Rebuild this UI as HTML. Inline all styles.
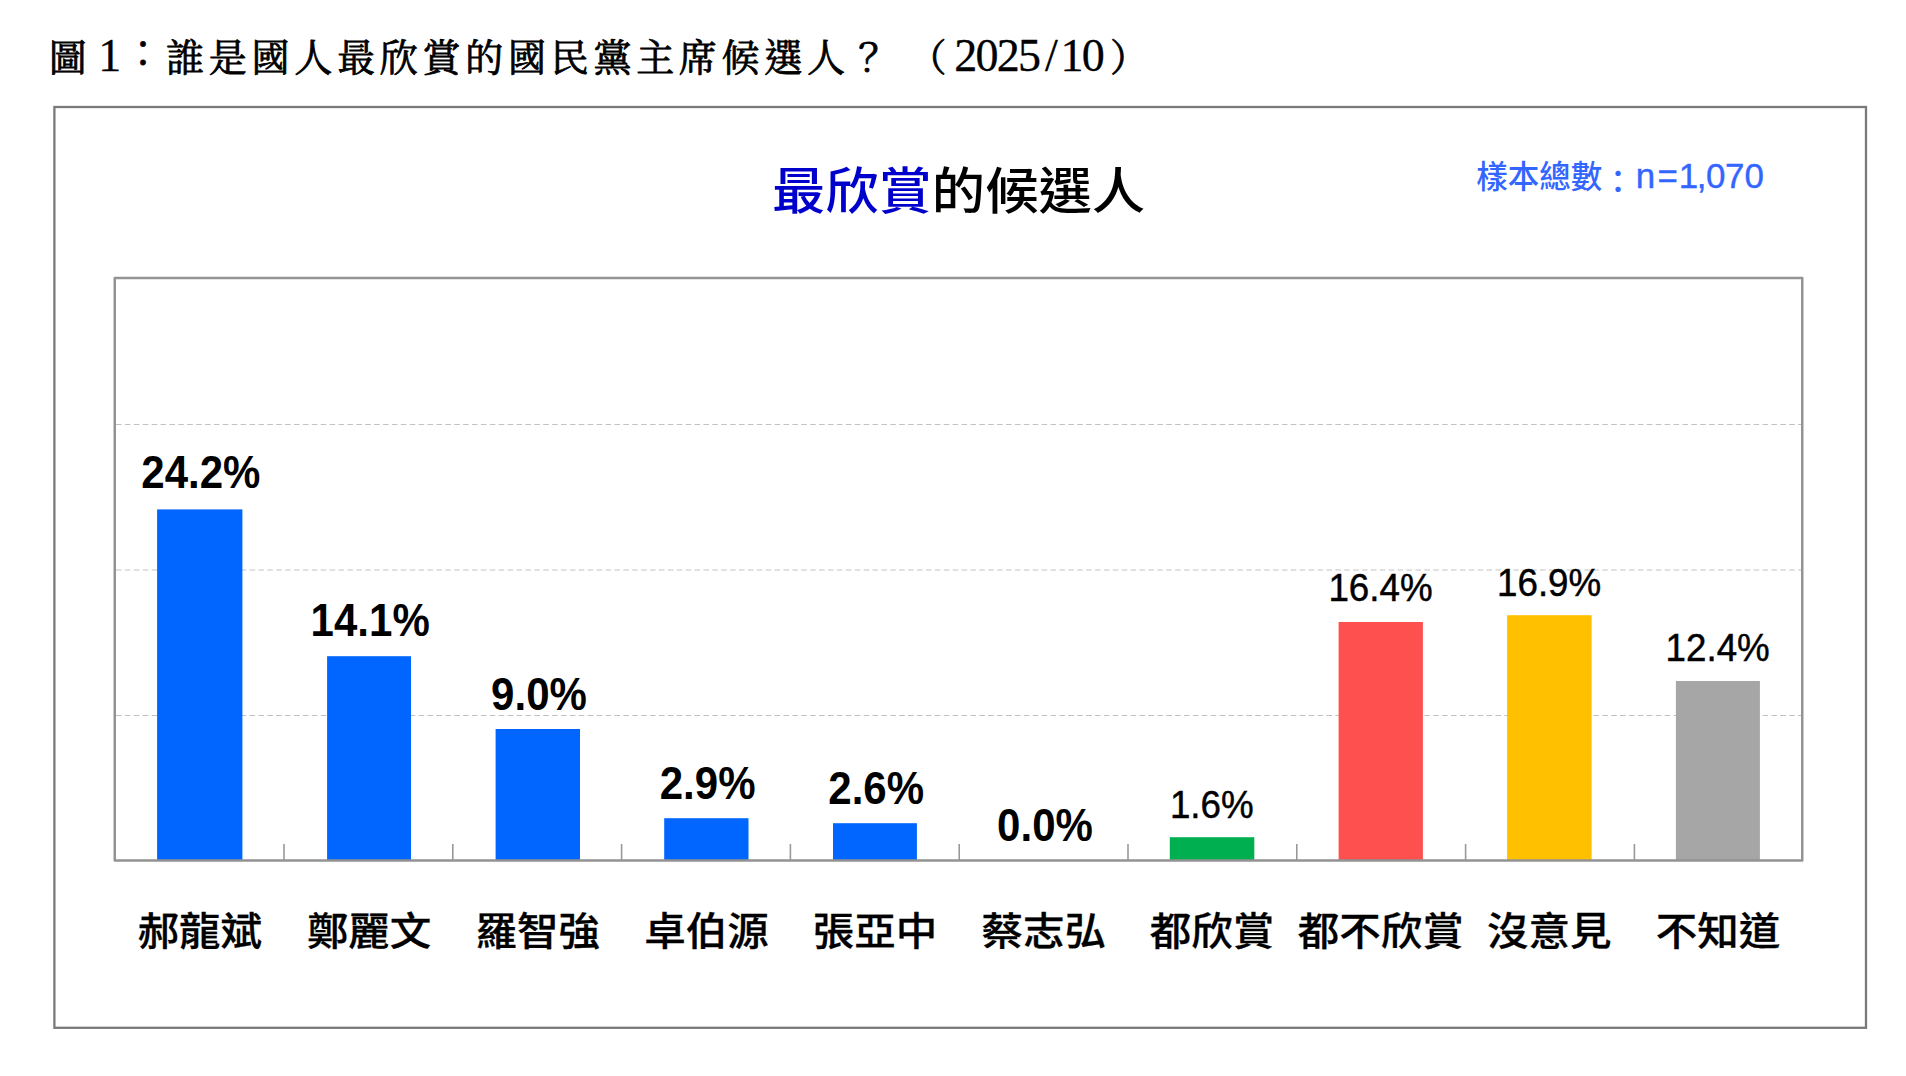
<!DOCTYPE html>
<html lang="zh-Hant"><head><meta charset="utf-8"><title>圖 1：誰是國人最欣賞的國民黨主席候選人？</title>
<style>
html,body{margin:0;padding:0;background:#fff;}
body{width:1906px;height:1076px;overflow:hidden;}
svg{display:block;}
.kai{font-family:"Liberation Serif","Noto Serif CJK SC","Noto Serif CJK TC","Noto Serif CJK JP",serif;}
.hei{font-family:"Liberation Sans","Noto Sans CJK TC","Noto Sans CJK SC","Noto Sans CJK JP",sans-serif;}
.num{font-family:"Liberation Sans",Arial,sans-serif;}
</style></head><body>
<svg width="1906" height="1076" viewBox="0 0 1906 1076">
<rect x="0" y="0" width="1906" height="1076" fill="#fff"/>
<text class="kai" y="70.8" fill="#000" stroke="#000" stroke-width="0.8" stroke-linejoin="round" font-size="38" font-weight="400"><tspan x="48.85">圖 </tspan><tspan x="98.2" y="71" font-size="46" stroke-width="0.3">1</tspan><tspan x="123.9" y="66.4">：</tspan><tspan x="166.1 208.83 251.56 294.29 337.02 379.75 422.48 465.21 507.94 550.67 593.4 636.13 678.86 721.59 764.32 807.05 849.78" y="70.8">誰是國人最欣賞的國民黨主席候選人？ </tspan><tspan x="908.5">（</tspan><tspan x="954.2 975.45 996.7 1017.95 1045 1060.45 1081.7" y="71" font-size="46" stroke-width="0.3">2025/10</tspan><tspan x="1110" y="70.8">）</tspan></text>
<rect x="54.4" y="107" width="1811.6" height="920.8" fill="#fff" stroke="#7a7a7a" stroke-width="2.3"/>
<text class="hei" transform="translate(958.5 208.6) scale(1 0.937)" font-size="53.3" font-weight="500" text-anchor="middle"><tspan fill="#0000CC">最欣賞</tspan><tspan fill="#000">的候選人</tspan></text>
<text class="hei" y="188" font-size="31.5" font-weight="500" fill="#3366FF"><tspan x="1476.3">樣本總數</tspan><tspan dy="5">：</tspan><tspan dy="-5" x="1635.7 1657.4 1678.8 1696.7 1705.9 1724.9 1744.5" font-size="34.9" font-weight="400" stroke="#3366FF" stroke-width="0.4">n=1,070</tspan></text>
<line x1="116" y1="424.5" x2="1801" y2="424.5" stroke="#c2c2c2" stroke-width="1" stroke-dasharray="5.6 3.3"/>
<line x1="116" y1="570" x2="1801" y2="570" stroke="#c2c2c2" stroke-width="1" stroke-dasharray="5.6 3.3"/>
<line x1="116" y1="715.5" x2="1801" y2="715.5" stroke="#c2c2c2" stroke-width="1" stroke-dasharray="5.6 3.3"/>
<line x1="284.0" y1="844" x2="284.0" y2="860" stroke="#999" stroke-width="1.6"/>
<line x1="452.8" y1="844" x2="452.8" y2="860" stroke="#999" stroke-width="1.6"/>
<line x1="621.6" y1="844" x2="621.6" y2="860" stroke="#999" stroke-width="1.6"/>
<line x1="790.4" y1="844" x2="790.4" y2="860" stroke="#999" stroke-width="1.6"/>
<line x1="959.2" y1="844" x2="959.2" y2="860" stroke="#999" stroke-width="1.6"/>
<line x1="1128.0" y1="844" x2="1128.0" y2="860" stroke="#999" stroke-width="1.6"/>
<line x1="1296.8" y1="844" x2="1296.8" y2="860" stroke="#999" stroke-width="1.6"/>
<line x1="1465.6" y1="844" x2="1465.6" y2="860" stroke="#999" stroke-width="1.6"/>
<line x1="1634.4" y1="844" x2="1634.4" y2="860" stroke="#999" stroke-width="1.6"/>
<rect x="157.1" y="509.4" width="85.3" height="351.6" fill="#0066FF"/>
<rect x="327.1" y="656.2" width="83.9" height="204.8" fill="#0066FF"/>
<rect x="495.6" y="729.0" width="84.4" height="132.0" fill="#0066FF"/>
<rect x="664.2" y="818.2" width="84.3" height="42.8" fill="#0066FF"/>
<rect x="833.0" y="823.2" width="83.9" height="37.8" fill="#0066FF"/>
<rect x="1169.8" y="837.2" width="84.5" height="23.8" fill="#00B050"/>
<rect x="1338.6" y="622.0" width="84.3" height="239.0" fill="#FF5050"/>
<rect x="1507.1" y="615.2" width="84.5" height="245.8" fill="#FFC000"/>
<rect x="1675.9" y="681.0" width="84.0" height="180.0" fill="#A6A6A6"/>
<rect x="114.75" y="278" width="1687.5" height="582.4" fill="none" stroke="#939393" stroke-width="2.5" stroke-linejoin="round"/>
<text class="num" transform="translate(200.9 488.0) scale(0.985 1.065)" font-size="42.67" font-weight="700" text-anchor="middle" fill="#000">24.2%</text>
<text class="num" transform="translate(370.2 635.7) scale(0.985 1.065)" font-size="42.67" font-weight="700" text-anchor="middle" fill="#000">14.1%</text>
<text class="num" transform="translate(539.0 709.8) scale(0.985 1.065)" font-size="42.67" font-weight="700" text-anchor="middle" fill="#000">9.0%</text>
<text class="num" transform="translate(707.6 798.9) scale(0.985 1.065)" font-size="42.67" font-weight="700" text-anchor="middle" fill="#000">2.9%</text>
<text class="num" transform="translate(876.2 803.5) scale(0.985 1.065)" font-size="42.67" font-weight="700" text-anchor="middle" fill="#000">2.6%</text>
<text class="num" transform="translate(1045.0 840.6) scale(0.985 1.065)" font-size="42.67" font-weight="700" text-anchor="middle" fill="#000">0.0%</text>
<text class="num" transform="translate(1211.8 817.8) scale(0.985 1.02)" font-size="37.33" text-anchor="middle" fill="#000" stroke="#000" stroke-width="0.45">1.6%</text>
<text class="num" transform="translate(1380.5 601.4) scale(0.985 1.02)" font-size="37.33" text-anchor="middle" fill="#000" stroke="#000" stroke-width="0.45">16.4%</text>
<text class="num" transform="translate(1549.1 595.9) scale(0.985 1.02)" font-size="37.33" text-anchor="middle" fill="#000" stroke="#000" stroke-width="0.45">16.9%</text>
<text class="num" transform="translate(1717.7 661.0) scale(0.985 1.02)" font-size="37.33" text-anchor="middle" fill="#000" stroke="#000" stroke-width="0.45">12.4%</text>
<text class="hei" transform="translate(199.8 945.2) scale(1 0.92)" font-size="41.5" font-weight="500" text-anchor="middle" fill="#000" stroke="#000" stroke-width="0.3">郝龍斌</text>
<text class="hei" transform="translate(369.1 945.2) scale(1 0.92)" font-size="41.5" font-weight="500" text-anchor="middle" fill="#000" stroke="#000" stroke-width="0.3">鄭麗文</text>
<text class="hei" transform="translate(537.8 945.2) scale(1 0.92)" font-size="41.5" font-weight="500" text-anchor="middle" fill="#000" stroke="#000" stroke-width="0.3">羅智強</text>
<text class="hei" transform="translate(706.4 945.2) scale(1 0.92)" font-size="41.5" font-weight="500" text-anchor="middle" fill="#000" stroke="#000" stroke-width="0.3">卓伯源</text>
<text class="hei" transform="translate(875.0 945.2) scale(1 0.92)" font-size="41.5" font-weight="500" text-anchor="middle" fill="#000" stroke="#000" stroke-width="0.3">張亞中</text>
<text class="hei" transform="translate(1043.8 945.2) scale(1 0.92)" font-size="41.5" font-weight="500" text-anchor="middle" fill="#000" stroke="#000" stroke-width="0.3">蔡志弘</text>
<text class="hei" transform="translate(1212.0 945.2) scale(1 0.92)" font-size="41.5" font-weight="500" text-anchor="middle" fill="#000" stroke="#000" stroke-width="0.3">都欣賞</text>
<text class="hei" transform="translate(1380.8 945.2) scale(1 0.92)" font-size="41.5" font-weight="500" text-anchor="middle" fill="#000" stroke="#000" stroke-width="0.3">都不欣賞</text>
<text class="hei" transform="translate(1549.3 945.2) scale(1 0.92)" font-size="41.5" font-weight="500" text-anchor="middle" fill="#000" stroke="#000" stroke-width="0.3">沒意見</text>
<text class="hei" transform="translate(1717.9 945.2) scale(1 0.92)" font-size="41.5" font-weight="500" text-anchor="middle" fill="#000" stroke="#000" stroke-width="0.3">不知道</text>
</svg>
</body></html>
